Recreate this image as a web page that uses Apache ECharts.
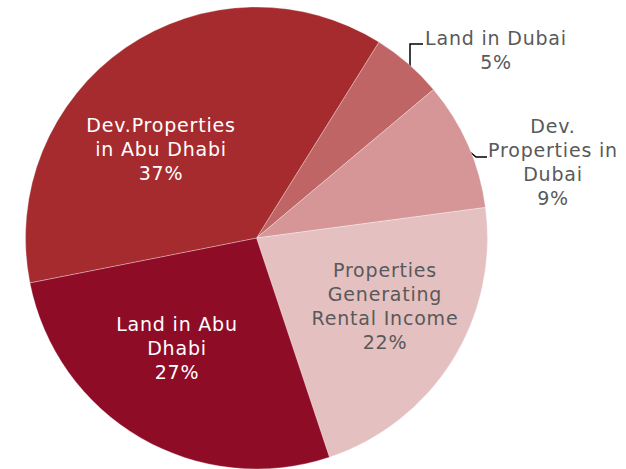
<!DOCTYPE html>
<html>
<head>
<meta charset="utf-8">
<script src="https://cdn.jsdelivr.net/npm/echarts@6/dist/echarts.min.js"></script>
<style>
  html, body { margin: 0; padding: 0; background: #fff; }
  #chart { width: 626px; height: 469px; }
  #chart text { letter-spacing: 0.8px; }
</style>
</head>
<body>
<div id="chart"></div>
<script>
// Portfolio breakdown (share of total, %)
const categories = [
  'Land in Dubai',
  'Dev. Properties in Dubai',
  'Properties Generating Rental Income',
  'Land in Abu Dhabi',
  'Dev.Properties in Abu Dhabi'
];
const labelText = [
  'Land in Dubai',
  'Dev.\nProperties in\nDubai',
  'Properties\nGenerating\nRental Income',
  'Land in Abu\nDhabi',
  'Dev.Properties\nin Abu Dhabi'
];
const shares = [5, 9, 22, 27, 37];

const sliceColors = ['#c06565', '#d69697', '#e4c0c1', '#8f0c27', '#a62b2f'];
const textColors = ['#595959', '#595959', '#595959', '#ffffff', '#ffffff'];
const outside = [true, true, false, false, false];

// label anchor points (centre of each text block) and leader lines
const labelPos = [
  { x: 496, y: 50, line: [[410, 68], [410, 44], [423, 44]] },
  { x: 553, y: 162, line: [[470, 152], [476, 157], [487, 157]] },
  { x: 385, y: 306 },
  { x: 177, y: 348 },
  { x: 161, y: 149 }
];

const data = categories.map((name, i) => ({
  name: name,
  value: shares[i],
  itemStyle: { color: sliceColors[i] },
  label: {
    position: outside[i] ? 'outside' : 'inside',
    color: textColors[i]
  },
  labelLine: { show: outside[i] }
}));

const chart = echarts.init(document.getElementById('chart'), null, { renderer: 'svg' });
chart.setOption({
  animation: false,
  series: [{
    type: 'pie',
    center: [256.5, 238],
    radius: 231,
    startAngle: 58,
    clockwise: true,
    avoidLabelOverlap: false,
    itemStyle: { borderColor: 'rgba(255,255,255,0.3)', borderWidth: 1 },
    label: {
      show: true,
      fontFamily: 'DejaVu Sans',
      fontSize: 19,
      lineHeight: 24,
      align: 'center',
      formatter: p => labelText[p.dataIndex] + '\n' + p.value + '%'
    },
    labelLine: {
      lineStyle: { color: '#000', width: 1.5 }
    },
    labelLayout: function (params) {
      const pos = labelPos[params.dataIndex];
      const out = { x: pos.x, y: pos.y, align: 'center', verticalAlign: 'middle' };
      if (pos.line) out.labelLinePoints = pos.line;
      return out;
    },
    data: data
  }]
});
</script>
</body>
</html>
